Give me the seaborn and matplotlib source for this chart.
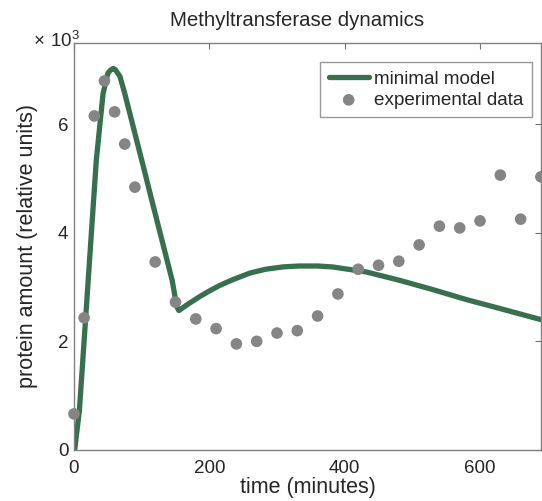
import matplotlib
matplotlib.use("Agg")
import matplotlib.pyplot as plt
import seaborn as sns
import pandas as pd

# model curve (time in minutes, amount)
model_t = [1, 8, 13, 18, 23, 28, 33, 38, 43, 50, 54, 58, 61, 68, 75, 85, 95, 105, 115,
           125, 135, 145, 152, 155, 170, 185, 200, 215, 235, 260, 283, 310, 333, 360,
           382, 432, 481, 530, 580, 630, 690]
model_v = [0, 730, 1650, 2570, 3500, 4420, 5340, 5960, 6570, 6940, 7000, 7030, 7010,
           6880, 6570, 6080, 5590, 5100, 4600, 4110, 3620, 3130, 2640, 2570, 2700, 2820,
           2930, 3030, 3140, 3260, 3330, 3375, 3390, 3390, 3373, 3280, 3127, 2956, 2771,
           2605, 2402]

# experimental points
exp_t = [0, 15, 30, 45, 60, 75, 90, 120, 150, 180, 210, 240, 270, 300, 330, 360, 390,
         420, 450, 480, 510, 540, 570, 600, 630, 660, 690]
exp_v = [665, 2435, 6155, 6800, 6230, 5637, 4843, 3465, 2725, 2415, 2236, 1955, 2002,
         2155, 2199, 2469, 2875, 3330, 3404, 3478, 3779, 4124, 4092, 4221, 5065, 4253, 5033]

model_df = pd.DataFrame({"t": model_t, "v": model_v})
exp_df = pd.DataFrame({"t": exp_t, "v": exp_v})

sns.set_style("white")
plt.rcParams["font.family"] = ["Liberation Sans", "DejaVu Sans"]
plt.rcParams["mathtext.fontset"] = "custom"
plt.rcParams["mathtext.rm"] = "Liberation Sans"

fig = plt.figure(figsize=(5.42, 5.01), dpi=100)
ax = fig.add_axes([0.1365, 0.1018, 0.8615, 0.8125])

green = "#37704f"
grey = "#858585"

sns.lineplot(data=model_df, x="t", y="v", ax=ax, color=green, linewidth=3.8,
             label="minimal model", sort=False)
sns.scatterplot(data=exp_df, x="t", y="v", ax=ax, color=grey, s=70, edgecolor="none",
                label="experimental data", zorder=3, clip_on=False)

ax.set_xlim(0, 690)
ax.set_ylim(0, 7500)
ax.set_xticks([0, 200, 400, 600])
ax.set_yticks([0, 2000, 4000, 6000])
ax.set_yticklabels(["0", "2", "4", "6"])
ax.tick_params(direction="in", length=4, width=0.8, color="#707070", labelsize=13.5,
               top=True, right=True)
ax.tick_params(axis="x", pad=7)
ax.tick_params(axis="y", pad=4)
for sp in ax.spines.values():
    sp.set_color("#808080")
    sp.set_linewidth(1.0)

ax.set_xlabel("time (minutes)", fontsize=15.5, labelpad=0)
ax.set_ylabel("protein amount (relative units)", fontsize=15.5, labelpad=14)
ax.set_title("Methyltransferase dynamics", fontsize=14.7, pad=12, x=0.4775)
ax.text(-0.088, 0.99, r"$\times\ 10^{3}$", transform=ax.transAxes, fontsize=13.5,
        ha="left", va="baseline")

leg = ax.legend(loc="upper right", bbox_to_anchor=(0.981, 0.953), fontsize=13.6,
                frameon=True, fancybox=False, handlelength=2.1, handletextpad=0.3,
                borderpad=0.45, labelspacing=0.2, markerscale=1.0, borderaxespad=0)
leg.get_frame().set_edgecolor("#808080")
leg.get_frame().set_linewidth(1.0)

fig.savefig("out.png", dpi=100)
